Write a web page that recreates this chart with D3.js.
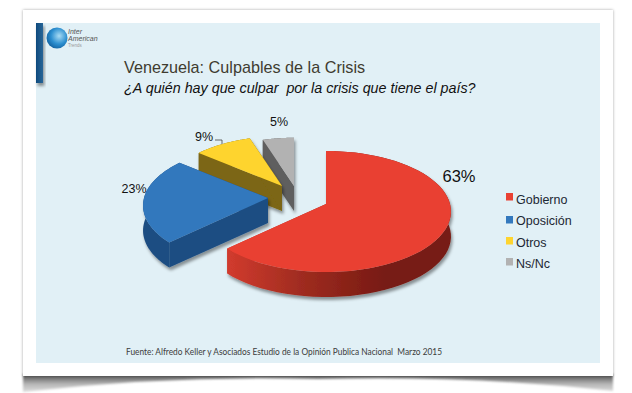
<!DOCTYPE html>
<html><head><meta charset="utf-8">
<script src="https://cdn.jsdelivr.net/npm/d3@7"></script>
<style>html,body{margin:0;padding:0;background:#fff}svg{display:block}text{font-family:"Liberation Sans",Arial,sans-serif}</style>
</head><body><svg id="c" width="632" height="393"></svg>
<script>
const categories=["Gobierno","Oposición","Otros","Ns/Nc"];
const values=[63,23,9,5];
const topColors=["#e94133","#3378bd","#fed42f","#b2b2b2"];
const wallColors=["url(#redWall)","#1e4e82","#7c6612","#5e5e5e"];
const apexX=[326,268,282,294];
const apexY=[204,198,186,186];
const radiusK=[1,1,0.94,0.91];
const labelX=[459,134,204,279];
const labelY=[182,193,141,126];
const labelSize=[16.5,12.5,12.5,12.5];
const legendTextY=[199,220,242,263];
const legendBoxY=[193,216,237,258];
const title="Venezuela: Culpables de la Crisis";
const subtitle="¿A quién hay que culpar  por la crisis que tiene el país?";
const source="Fuente: Alfredo Keller y Asociados Estudio de la Opinión Publica Nacional  Marzo 2015";

const svg=d3.select("#c");
const defs=svg.append("defs");
const blur=(id,dx,dy,sd,op)=>{const f=defs.append("filter").attr("id",id).attr("x","-20%").attr("y","-20%").attr("width","150%").attr("height","150%");
 f.append("feDropShadow").attr("dx",dx).attr("dy",dy).attr("stdDeviation",sd).attr("flood-color","#000").attr("flood-opacity",op);};
blur("sliceShadow",1.5,3,1.5,0.4);
blur("cardShadow",0,0,1.5,0.35);
defs.append("filter").attr("id","soft").append("feGaussianBlur").attr("stdDeviation",1.2);
const grad=(id,attrs,stops)=>{const g=defs.append("linearGradient").attr("id",id).attr("gradientUnits","userSpaceOnUse");
 Object.entries(attrs).forEach(([k,v])=>g.attr(k,v));
 stops.forEach(([o,c])=>g.append("stop").attr("offset",o).attr("stop-color",c));};
grad("redWall",{x1:231,x2:385,y1:0,y2:0},[[0,"#cf3a2d"],[0.45,"#a02c20"],[1,"#771a12"]]);
grad("bandV",{x1:0,x2:0,y1:376,y2:392},[[0,"#5f5f5f"],[0.5,"#b5b5b5"],[1,"#dedede"]]);

// page card
svg.append("path").attr("d","M23,374L613,374L613,391Q470,375 318,379Q170,375 23,392Z").attr("fill","url(#bandV)").attr("filter","url(#soft)");
svg.append("rect").attr("x",23).attr("y",10).attr("width",590).attr("height",366).attr("fill","#fff").attr("filter","url(#cardShadow)");
svg.append("rect").attr("x",36).attr("y",23).attr("width",564).attr("height",340).attr("fill","#e1f0f6");

// logo
grad("barG",{x1:36,x2:44,y1:0,y2:0},[[0,"#0f4a7d"],[1,"#2c6a9c"]]);
svg.append("rect").attr("x",36).attr("y",23).attr("width",7).attr("height",60).attr("fill","url(#barG)").attr("filter","url(#sliceShadow)");
const rg=defs.append("radialGradient").attr("id","globe").attr("cx","0.6").attr("cy","0.4").attr("r","0.7");
rg.append("stop").attr("offset",0).attr("stop-color","#a9dcf4");
rg.append("stop").attr("offset",0.55).attr("stop-color","#2c8fd0");
rg.append("stop").attr("offset",1).attr("stop-color","#0e5a98");
svg.append("circle").attr("cx",57).attr("cy",38).attr("r",10.5).attr("fill","url(#globe)");
[["Inter",34,"#555",7],["American",41,"#555",7],["Trends",47,"#999",4.5]].forEach(([t,y,c,s])=>
 svg.append("text").attr("x",68).attr("y",y).attr("fill",c).attr("font-size",s).attr("font-style",t=="Trends"?"normal":"italic").text(t));

// titles
svg.append("text").attr("x",124).attr("y",73).attr("font-size",16.2).attr("fill","#3f3c30").text(title);
svg.append("text").attr("x",124).attr("y",93).attr("font-size",14.3).attr("font-style","italic").attr("fill","#111").style("white-space","pre").text(subtitle);

// pie
const depth=25, rx=124, ry=59.6, persp=0.124;
const pie=d3.pie().sort(null)(values);
const project=(i,a,dy=0)=>{
  const u=Math.sin(a), v=-Math.cos(a), s=1/(1-persp*v), k=radiusK[i];
  return [apexX[i]+rx*k*u*s, apexY[i]+ry*k*v*s+dy];
};
const line=d3.line();
const rimPts=(i,d,dy)=>d3.range(0,61).map(t=>project(i,d3.scaleLinear([0,60],[d.startAngle,d.endAngle])(t),dy));
const order=[3,2,1,0];
const gPie=svg.append("g");
order.forEach(i=>{
  const d=pie[i], g=gPie.append("g").attr("filter","url(#sliceShadow)");
  const top=rimPts(i,d,0), bot=rimPts(i,d,depth);
  const apex=[apexX[i],apexY[i]], apexB=[apexX[i],apexY[i]+depth];
  // rim and the two cut faces, hidden parts are covered by the top face
  g.append("path").attr("d",line(top.concat(bot.slice().reverse()))+"Z").attr("fill",wallColors[i]);
  [[top[0],bot[0]],[top[60],bot[60]]].forEach(([a,b])=>
    g.append("path").attr("d",line([apex,a,b,apexB])+"Z").attr("fill",wallColors[i]));
  g.append("path").attr("d",line([apex,...top])+"Z").attr("fill",topColors[i]);
});

// data labels
values.forEach((v,i)=>svg.append("text").attr("x",labelX[i]).attr("y",labelY[i]).attr("text-anchor","middle")
  .attr("font-size",labelSize[i]).attr("fill","#111").text(v+"%"));
svg.append("path").attr("d","M215,140H222V144").attr("fill","none").attr("stroke","#444").attr("stroke-width",0.8);

// legend
categories.forEach((c,i)=>{
  svg.append("rect").attr("x",506).attr("y",legendBoxY[i]).attr("width",7).attr("height",7.5).attr("fill",topColors[i]);
  svg.append("text").attr("x",516).attr("y",legendTextY[i]+4.5).attr("font-size",12.5).attr("fill","#1c2733").text(c);
});

// source
svg.append("text").attr("x",126).attr("y",355).style("font-family","Lato").attr("font-size",9).attr("fill","#3c3c3c").style("white-space","pre").attr("textLength",316).attr("lengthAdjust","spacingAndGlyphs").text(source);
</script></body></html>
